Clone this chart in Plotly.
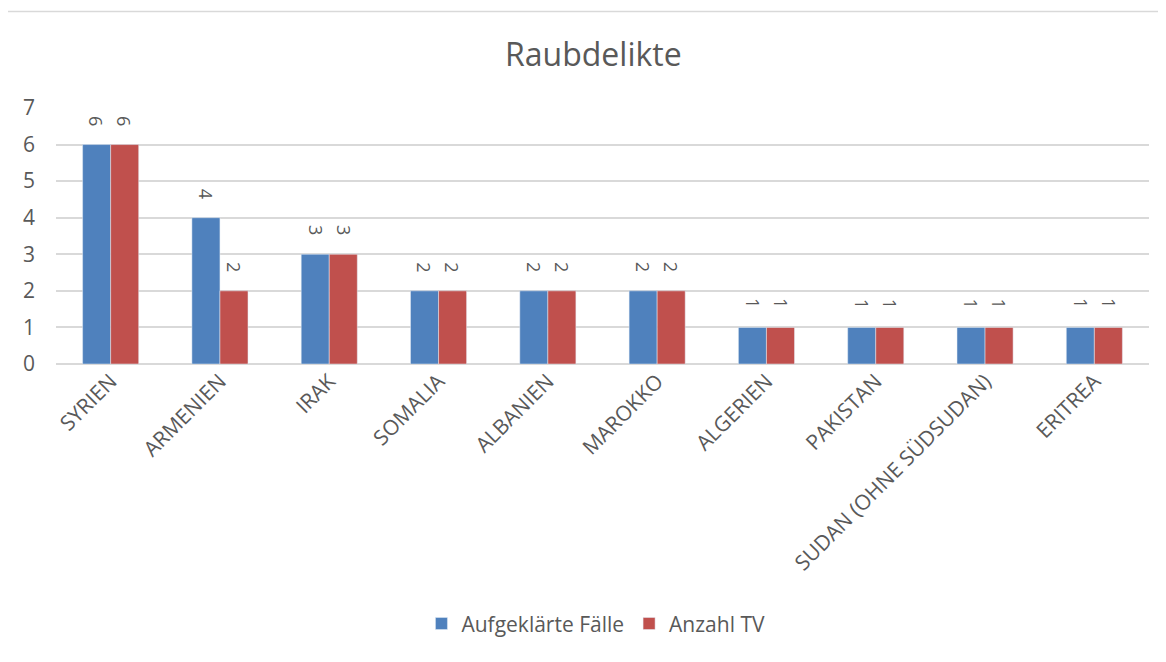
import plotly.graph_objects as go

categories = ["SYRIEN", "ARMENIEN", "IRAK", "SOMALIA", "ALBANIEN", "MAROKKO",
              "ALGERIEN", "PAKISTAN", "SUDAN (OHNE SÜDSUDAN)", "ERITREA"]
aufgeklaert = [6, 4, 3, 2, 2, 2, 1, 1, 1, 1]
anzahl_tv = [6, 2, 3, 2, 2, 2, 1, 1, 1, 1]
y_ticks = [0, 1, 2, 3, 4, 5, 6, 7]

font_family = "Open Sans, Liberation Sans, sans-serif"
txt_color = "#595959"

fig = go.Figure()
fig.add_trace(go.Bar(x=categories, y=aufgeklaert, name="Aufgeklärte Fälle",
                     marker_color="#4F81BD"))
fig.add_trace(go.Bar(x=categories, y=anzahl_tv, name="Anzahl TV",
                     marker_color="#C0504D"))

# data labels (rotated, above each bar)
for series, shift in ((aufgeklaert, -14), (anzahl_tv, 14)):
    for cat, val in zip(categories, series):
        fig.add_annotation(x=cat, y=val, text=str(val), showarrow=False,
                           textangle=90, xshift=shift, yshift=24,
                           xanchor="center", yanchor="middle",
                           font=dict(size=18, color=txt_color, family=font_family))

fig.update_layout(
    width=1150, height=646,
    paper_bgcolor="white", plot_bgcolor="white",
    margin=dict(l=48, r=9, t=100, b=285),
    barmode="group", bargap=0.487, bargroupgap=0,
    title=dict(text="Raubdelikte", x=0.509, xanchor="center", y=0.927, yanchor="middle",
               font=dict(size=32, color=txt_color, family=font_family)),
    font=dict(family=font_family, color=txt_color),
    legend=dict(orientation="h", x=0.494, xanchor="center", y=-1.015, yanchor="middle",
                font=dict(size=21, color=txt_color), itemwidth=30, traceorder="normal"),
    shapes=[dict(type="line", xref="paper", yref="paper", x0=-0.05, x1=1.02,
                 y0=1.377, y1=1.377, line=dict(color="#d9d9d9", width=1.5))],
)
fig.update_xaxes(tickangle=-45, tickfont=dict(size=21, color=txt_color),
                 showline=False, ticks="", showgrid=False)
fig.update_yaxes(range=[0, 7], tickvals=y_ticks, tickfont=dict(size=21, color=txt_color),
                 showgrid=True, gridcolor="#d9d9d9", gridwidth=2, zeroline=True,
                 zerolinecolor="#d9d9d9", zerolinewidth=2, ticks="", ticklen=0,
                 ticklabelstandoff=20)

fig.write_html("out.html")
